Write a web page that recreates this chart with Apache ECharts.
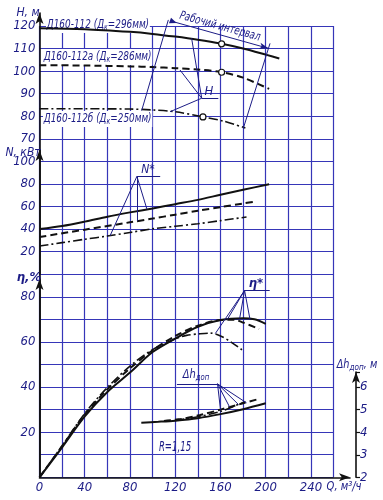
<!DOCTYPE html>
<html><head><meta charset="utf-8">
<script src="https://cdn.jsdelivr.net/npm/echarts@6/dist/echarts.min.js"></script>
<style>html,body{margin:0;padding:0;background:#fff}#c{width:383px;height:500px}</style>
</head><body><div id="c"></div>
<script>
// ---- head H, m (Q in m3/h) ----
const qH1 = [0,40,80,100,120,140,160,180,200,212];
const h1  = [119,118.6,117.4,116.5,115.3,113.9,112.2,110.0,107.3,105.6];
const qH2 = [0,40,80,100,120,140,160,180,203];
const h2  = [102.6,102.5,102.1,101.8,101.3,100.7,99.6,97.1,92.1];
const qH3 = [0,40,80,100,120,145,163,182];
const h3  = [83.3,83.3,83.2,82.8,82.0,79.7,77.8,74.8];
// ---- power N, kW ----
const qN1 = [0,20,40,60,80,100,120,140,160,180,203];
const n1  = [40,42.7,46.6,51,54.8,58.3,62.1,65.9,70.4,74.8,79.8];
const qN2 = [0,40,80,100,120,140,160,180,192];
const n2  = [33,39.5,46,49.3,52.8,56.2,59.5,62.7,64.5];
const qN3 = [0,20,40,60,80,100,120,140,160,183];
const n3  = [25,28,31,33.8,37,40.2,42.5,44.7,47.5,50.7];
// ---- efficiency eta, % ----
const qE1 = [0,20,40,60,80,100,120,140,160,180,190,200];
const e1  = [0,13.3,27,37.8,46.4,55.5,61.5,66.7,69.7,70.5,70,68];
const qE2 = [0,20,40,60,80,100,120,140,160,172,180,194];
const e2  = [0,13.8,27.8,39,48.3,56.3,62.6,67.2,69.7,69.8,68.6,65.7];
const qE3 = [0,20,40,60,80,100,120,130,142,151,161,170,179];
const e3  = [0,14,28.3,39.8,49.3,56.6,61.3,62.9,63.6,63.9,62.4,59.7,56.5];
// ---- NPSH dh, m ----
const qD1 = [90,105,120,140,160,180,200];
const d1  = [4.42,4.46,4.51,4.62,4.8,5.02,5.28];
const qD2 = [110,125,142,160,180,193];
const d2  = [4.5,4.58,4.76,5.0,5.28,5.46];
const qD3 = [120,140,160,182];
const d3  = [4.52,4.68,4.92,5.36];
// ---- tick labels ----
const xTicks = [0,40,80,120,160,200,240];
const hTicks = [70,80,90,100,110,120];
const nTicks = [20,40,60,80,100];
const eTicks = [20,40,60,80];
const dTicks = [2,3,4,5,6];
// ---- annotation anchors (data units) ----
const dutyPts = [[161,112.1],[161,99.5],[144.5,79.7]];
const workArrow = [[118.3,121.9],[202.3,110.1]];
const workLeft  = [[113.9,122.7],[90.3,82.5]];
const workRight = [[203.8,112.3],[180.2,74.7]];
const hLeader = {apex:[143.4,88], end:[158.1,88], targets:[[134.5,114.5],[124.2,100.5],[115.4,82]]};
const nLeader = {apex:[86.1,86.7], end:[106.7,86.7], targets:[[95,57.6],[86,47.3],[62.4,34.1]]};
const eLeader = {apex:[181.3,82.8], end:[203.5,82.8], targets:[[155.4,63.7],[166,69.9],[177,70.5],[186,70.2]]};
const dLeader = {apex:[157.4,6.14], start:[121.5,6.14], targets:[[160,5.0],[168,5.12],[176,5.22],[183,5.3]]};

const BLUE = '#3636b8', NAVY = '#1c1c86', INK = '#111';
const FONT = '"Liberation Sans Narrow","DejaVu Sans Condensed","Liberation Sans",sans-serif';
const lab = {fontStyle:'italic', fontFamily:FONT, fontSize:13, color:NAVY};

function pairs(q, v){ return q.map((x,i)=>[x, v[i]]); }
function curve(q, v, yi, type, width, xi){
  return {type:'line', xAxisIndex:xi || 0, yAxisIndex:yi, data:pairs(q,v), showSymbol:false,
    smooth:0.3, clip:false, silent:true, animation:false,
    lineStyle:{color:INK, width:width, type:type}};
}
function seg(a,b){ return [{coord:a},{coord:b}]; }
function leaders(L, fromKey){
  const out = [seg(L.apex, L[fromKey])];
  L.targets.forEach(t=>out.push(seg(L.apex,t)));
  return out;
}
const mlBase = {silent:true, animation:false, symbol:'none', label:{show:false},
  lineStyle:{color:NAVY, width:1, type:'solid'}, emphasis:{disabled:true}};
const DASH = [7,4], DASHDOT = [9,3,2,3];
const fmt = list => v => (list.indexOf(+v) >= 0 ? String(v) : '');
const mpBase = {silent:true, animation:false, symbol:'circle', symbolSize:6,
  itemStyle:{color:'#fff', borderColor:INK, borderWidth:1.2}, label:{show:false}};

// H curve 1 is drawn on the taller frame grid (same scale, extended range) so its
// working-interval annotations above H=120 are kept.
const sH1 = curve(qH1,h1,4,'solid',2,1);
sH1.markLine = Object.assign({}, mlBase, {data:[
  seg(workLeft[0], workLeft[1]),
  seg(workRight[0], workRight[1]),
  [{coord:workArrow[0], symbol:'triangle', symbolSize:[6,7], symbolRotate:-110}, {coord:workArrow[1], symbol:'arrow', symbolSize:[5,9]}],
  ...leaders(hLeader,'end')
]});
sH1.markPoint = Object.assign({}, mpBase, {data:[{coord:dutyPts[0]}]});
const sH2 = curve(qH2,h2,0,DASH,2);
sH2.markPoint = Object.assign({}, mpBase, {data:[{coord:dutyPts[1]}]});
const sH3 = curve(qH3,h3,0,DASHDOT,1.6);
sH3.markPoint = Object.assign({}, mpBase, {data:[{coord:dutyPts[2]}]});

const sN1 = curve(qN1,n1,1,'solid',2);
sN1.markLine = Object.assign({}, mlBase, {data: leaders(nLeader,'end')});
const sN2 = curve(qN2,n2,1,DASH,2);
const sN3 = curve(qN3,n3,1,DASHDOT,1.6);

const sE1 = curve(qE1,e1,2,'solid',2);
sE1.markLine = Object.assign({}, mlBase, {data: leaders(eLeader,'end')});
const sE2 = curve(qE2,e2,2,DASH,2);
const sE3 = curve(qE3,e3,2,DASHDOT,1.6);

const sD1 = curve(qD1,d1,3,'solid',2);
sD1.markLine = Object.assign({}, mlBase, {data: leaders(dLeader,'start')});
const sD2 = curve(qD2,d2,3,DASH,2);
const sD3 = curve(qD3,d3,3,DASHDOT,1.6);

const axLine = (arrow) => ({show:true, onZero:false, lineStyle:{color:INK, width:1.6},
  symbol: arrow ? ['none','arrow'] : 'none', symbolSize:[6,11]});
const hiddenX = gi => ({gridIndex:gi, type:'value', min:0, max:1, show:false});
const arrowY = gi => ({gridIndex:gi, type:'value', min:0, max:1, position:'left',
  axisLine:axLine(true), axisTick:{show:false}, axisLabel:{show:false}, splitLine:{show:false}});

function txt(x, y, text, opt){
  opt = opt || {};
  return {type:'text', x:x, y:y, z:1, silent:true, rotation:opt.rotation || 0,
    scaleX:opt.sx || 1,
    style:Object.assign({text:text, fontFamily:FONT, fontStyle:'italic', fontSize:13,
      fill:NAVY, align:'center', verticalAlign:'middle'}, opt.style || {})};
}
const sub = {s:{fontSize:9, fontFamily:FONT, fontStyle:'italic', fill:NAVY, padding:[5,0,0,0]}};
const nameStyle = {align:'left', backgroundColor:'#fff', padding:[1,1], fontSize:13, rich:sub};

const option = {
  backgroundColor:'#fff',
  animation:false,
  grid:[
    {left:39.5, top:26, width:294.1, height:451.3},
    {left:39.5, top:13, width:310.5, height:464.3},
    {left:39.5, top:150, width:1, height:124},
    {left:39.5, top:279, width:1, height:198.3},
    {left:355, top:372, width:1, height:105.3}
  ],
  xAxis:[
    {gridIndex:0, type:'value', min:0, max:260, interval:20,
     axisLine:{show:false}, axisTick:{show:false},
     splitLine:{show:true, lineStyle:{color:BLUE, width:1.2}},
     axisLabel:Object.assign({}, lab, {margin:4, formatter:fmt(xTicks)})},
    {gridIndex:1, type:'value', min:0, max:274.5, position:'bottom', axisLine:axLine(true), axisTick:{show:false},
     axisLabel:{show:false}, splitLine:{show:false}},
    hiddenX(2), hiddenX(3), hiddenX(4)
  ],
  yAxis:[
    {gridIndex:0, type:'value', min:-80, max:120, interval:10, position:'left',
     axisLine:{show:false}, axisTick:{show:false},
     splitLine:{show:true, lineStyle:{color:BLUE, width:1.2}},
     axisLabel:Object.assign({}, lab, {margin:4, formatter:fmt(hTicks)})},
    {gridIndex:0, type:'value', min:-180, max:220, interval:20, position:'left',
     axisLine:{show:false}, axisTick:{show:false}, splitLine:{show:false},
     axisLabel:Object.assign({}, lab, {margin:4, formatter:fmt(nTicks)})},
    {gridIndex:0, type:'value', min:0, max:200, interval:10, position:'left',
     axisLine:{show:false}, axisTick:{show:false}, splitLine:{show:false},
     axisLabel:Object.assign({}, lab, {margin:4, formatter:fmt(eTicks)})},
    {gridIndex:0, type:'value', min:2, max:22, interval:1, show:false},
    {gridIndex:1, type:'value', min:-80, max:125.76, position:'left',
     axisLine:axLine(true), axisTick:{show:false}, axisLabel:{show:false}, splitLine:{show:false}},
    arrowY(2), arrowY(3),
    {gridIndex:4, type:'value', min:2, max:6.67, interval:1, position:'right',
     axisLine:axLine(true), axisTick:{show:true, length:4, lineStyle:{color:INK, width:1.2}},
     splitLine:{show:false},
     axisLabel:Object.assign({}, lab, {margin:4, formatter:fmt(dTicks)})}
  ],
  series:[sH1,sH2,sH3,sN1,sN2,sN3,sE1,sE2,sE3,sD1,sD2,sD3],
  graphic:[
    txt(28,12.5,'H, м',{style:{fontSize:12}}),
    txt(23,152.5,'N, кВт',{style:{fontSize:12}}),
    txt(29,278,'η,%',{style:{fontSize:13, fontWeight:'bold'}}),
    txt(357,365,'Δh{s|доп}, м',{sx:0.9, style:{fontSize:12, rich:sub}}),
    txt(344,487,'Q, м³/ч',{sx:0.85, style:{fontSize:13}}),
    txt(46,25,'Д160-112 (Д{s|к}=296мм)',{sx:0.76, style:nameStyle}),
    txt(43,57,'Д160-112а (Д{s|к}=286мм)',{sx:0.76, style:nameStyle}),
    txt(43,119,'Д160-112б (Д{s|к}=250мм)',{sx:0.76, style:nameStyle}),
    txt(220,26.5,'Рабочий интервал',{rotation:-0.27, sx:0.8, style:{fontSize:12}}),
    txt(209,91.5,'H',{style:{fontSize:13}}),
    txt(148,170,'N*',{style:{fontSize:12}}),
    txt(256,283.5,'η*',{style:{fontSize:13, fontWeight:'bold'}}),
    txt(196,375,'Δh{s|доп}',{sx:0.85, style:{fontSize:13, rich:sub}}),
    txt(175,447,'R=1,15',{sx:0.68, style:{fontSize:14}})
  ]
};
const chart = echarts.init(document.getElementById('c'), null, {renderer:'canvas'});
chart.setOption(option);
</script></body></html>
